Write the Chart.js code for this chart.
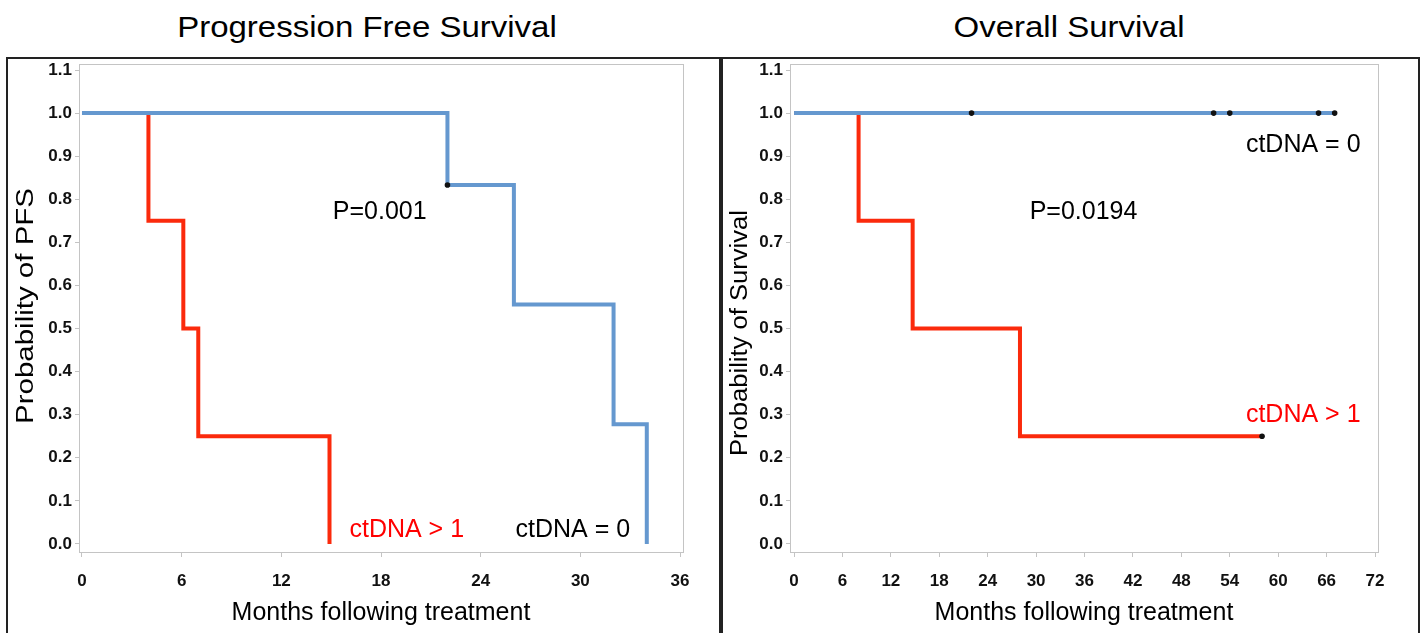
<!DOCTYPE html>
<html>
<head>
<meta charset="utf-8">
<script src="https://cdn.jsdelivr.net/npm/chart.js@4.4.0/dist/chart.umd.min.js"></script>
<style>
  body { margin: 0; background: #fff; width: 1421px; height: 633px; overflow: hidden; position: relative; font-family: "Liberation Sans", Arial, sans-serif; }
  canvas { position: absolute; top: 0; }
  .frame { position: absolute; top: 57px; height: 600px; border: 2px solid #222; pointer-events: none; }
  .ttl { position: absolute; top: 7px; font-size: 30px; line-height: 40px; color: #000; text-align: center; white-space: nowrap; transform: scaleX(1.1); }
</style>
</head>
<body>
<div class="ttl" style="left:167px;width:400px">Progression Free Survival</div>
<div class="ttl" style="left:869px;width:400px">Overall Survival</div>
<canvas id="pfs" style="left:0" width="720" height="633"></canvas>
<canvas id="os" style="left:720px" width="701" height="633"></canvas>
<div class="frame" style="left:6px;width:713px"></div>
<div class="frame" style="left:719px;width:697px"></div>
<script>
// tick labels
const yTicks = [0, 0.1, 0.2, 0.3, 0.4, 0.5, 0.6, 0.7, 0.8, 0.9, 1.0, 1.1];
const pfsTicksX = [0, 6, 12, 18, 24, 30, 36];
const osTicksX = [0, 6, 12, 18, 24, 30, 36, 42, 48, 54, 60, 66, 72];

// Progression free survival
const pfsZeroMonths = [0, 22, 26, 32, 34];
const pfsZeroSurv = [1, 0.833, 0.556, 0.278, 0];
const pfsHighMonths = [0, 4, 6.1, 7, 14.9];
const pfsHighSurv = [1, 0.75, 0.5, 0.25, 0];
const pfsCensorMonths = [22];
const pfsCensorSurv = [0.833];

// Overall survival
const osZeroMonths = [0, 67];
const osZeroSurv = [1, 1];
const osHighMonths = [0, 8, 14.7, 28, 58];
const osHighSurv = [1, 0.75, 0.5, 0.25, 0.25];
const osCensorMonths = [22, 52, 54, 65, 67, 58];
const osCensorSurv = [1, 1, 1, 1, 1, 0.25];

const BLUE = '#6598cf';
const RED = '#fb2a0c';
const GRAY = '#c4c4c4';
const FONT = '"Liberation Sans", Arial, sans-serif';

function pts(xs, ys) {
  return xs.map((x, i) => ({ x: x, y: ys[i] }));
}

// cadre gris autour de la zone de tracé, titre vertical et textes
const boxPlugin = {
  id: 'box',
  afterDraw(chart, args, opts) {
    const a = chart.chartArea;
    const ctx = chart.ctx;
    ctx.save();
    ctx.strokeStyle = GRAY;
    ctx.lineWidth = 1;
    ctx.strokeRect(Math.round(a.left) + 0.5, Math.round(a.top) + 0.5, Math.round(a.right - a.left), Math.round(a.bottom - a.top));
    ctx.restore();

    // titre de l'axe y, étiré à la longueur de l'original
    const t = opts.yTitle;
    ctx.save();
    ctx.font = '23px ' + FONT;
    ctx.fillStyle = '#000';
    ctx.textAlign = 'center';
    ctx.textBaseline = 'middle';
    ctx.translate(t.cx, t.cy);
    ctx.rotate(-Math.PI / 2);
    const w = ctx.measureText(t.text).width;
    ctx.scale(t.len / w, 1);
    ctx.fillText(t.text, 0, 0);
    ctx.restore();
  },
  afterDatasetsDraw(chart, args, opts) {
    const ctx = chart.ctx;
    const sx = chart.scales.x, sy = chart.scales.y;
    ctx.save();
    ctx.font = '25px ' + FONT;
    ctx.textBaseline = 'middle';
    ctx.textAlign = 'left';
    (opts.notes || []).forEach(n => {
      ctx.fillStyle = n.color;
      ctx.fillText(n.text, sx.getPixelForValue(n.x), sy.getPixelForValue(n.y));
    });
    ctx.restore();
  }
};

function makeChart(id, cfg) {
  const tickFont = { family: FONT, size: 17, weight: 'bold' };
  const titleFont = { family: FONT, size: 25 };
  return new Chart(document.getElementById(id), {
    type: 'line',
    data: {
      datasets: [
        { data: cfg.zero, borderColor: BLUE, borderWidth: 4, stepped: 'before', pointRadius: 0, fill: false, order: 1 },
        { data: cfg.high, borderColor: RED, borderWidth: 4, stepped: 'before', pointRadius: 0, fill: false, order: 2 },
        { data: cfg.censor, showLine: false, pointRadius: 2.8, pointBackgroundColor: '#111', pointBorderWidth: 0, order: 0 }
      ]
    },
    options: {
      responsive: false,
      animation: false,
      events: [],
      layout: { padding: { left: 0, top: 64, right: cfg.padRight, bottom: 0 } },
      plugins: {
        legend: { display: false },
        tooltip: { enabled: false },
        box: { notes: cfg.notes, yTitle: cfg.yTitle }
      },
      scales: {
        x: {
          type: 'linear',
          min: cfg.xMin, max: cfg.xMax,
          afterBuildTicks: s => { s.ticks = cfg.xTicks.map(v => ({ value: v })); },
          afterFit: s => { s.height = 81; },
          grid: { drawOnChartArea: false, tickLength: 5, color: GRAY },
          border: { display: true, color: GRAY },
          ticks: { font: tickFont, color: '#111', padding: 14, maxRotation: 0, autoSkip: false },
          title: { display: true, text: 'Months following treatment', font: titleFont, color: '#000', padding: { top: 0, bottom: 5 } }
        },
        y: {
          type: 'linear',
          min: -0.0186, max: 1.114,
          afterBuildTicks: s => { s.ticks = yTicks.map(v => ({ value: v })); },
          afterFit: s => { s.width = cfg.yWidth; },
          grid: { drawOnChartArea: false, tickLength: 4, color: GRAY },
          border: { display: true, color: GRAY },
          ticks: { font: tickFont, color: '#111', padding: 3, callback: v => v.toFixed(1) }
        }
      }
    },
    plugins: [boxPlugin]
  });
}

makeChart('pfs', {
  zero: pts(pfsZeroMonths, pfsZeroSurv),
  high: pts(pfsHighMonths, pfsHighSurv),
  censor: pts(pfsCensorMonths, pfsCensorSurv),
  xTicks: pfsTicksX, xMin: -0.18, xMax: 36.18,
  yWidth: 79, padRight: 37,
  yTitle: { text: 'Probability of PFS', cx: 27, cy: 306, len: 236 },
  notes: [
    { text: 'P=0.001', x: 15.1, y: 0.77, color: '#000' },
    { text: 'ctDNA > 1', x: 16.1, y: 0.032, color: '#f00' },
    { text: 'ctDNA = 0', x: 26.1, y: 0.032, color: '#000' }
  ]
});

makeChart('os', {
  zero: pts(osZeroMonths, osZeroSurv),
  high: pts(osHighMonths, osHighSurv),
  censor: pts(osCensorMonths, osCensorSurv),
  xTicks: osTicksX, xMin: -0.5, xMax: 72.37,
  yWidth: 70, padRight: 43,
  yTitle: { text: 'Probability of Survival', cx: 21, cy: 333, len: 246 },
  notes: [
    { text: 'ctDNA = 0', x: 56.0, y: 0.926, color: '#000' },
    { text: 'P=0.0194', x: 29.2, y: 0.77, color: '#000' },
    { text: 'ctDNA > 1', x: 56.0, y: 0.299, color: '#f00' }
  ]
});
</script>
</body>
</html>
